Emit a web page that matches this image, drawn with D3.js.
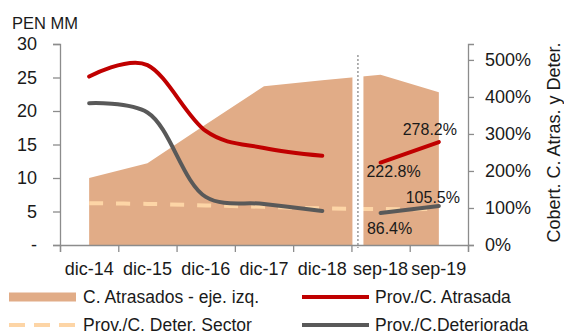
<!DOCTYPE html>
<html>
<head>
<meta charset="utf-8">
<script src="https://cdn.jsdelivr.net/npm/d3@7"></script>
<style>
  body { margin: 0; background: #fff; }
  svg text { font-family: "Liberation Sans", Arial, sans-serif; fill: #1a1a1a; }
</style>
</head>
<body>
<script>
// categories and series
var categories = ["dic-14", "dic-15", "dic-16", "dic-17", "dic-18", "sep-18", "sep-19"];
var segment = [0, 0, 0, 0, 0, 1, 1];   // annual block vs. sep block
var atrasados = [10.0, 12.2, 18.0, 23.7, 24.6, 25.4, 22.8];          // PEN MM, left axis
var provAtrasada = [4.55, 4.86, 3.08, 2.62, 2.41, 2.228, 2.782];     // right axis (1 = 100%)
var provDeteriorada = [3.83, 3.58, 1.30, 1.11, 0.92, 0.864, 1.055];  // right axis
var provDeterSector = [1.13, 1.11, 1.07, 1.03, 0.99, 0.97, 0.97];    // right axis
var leftTicks = [0, 5, 10, 15, 20, 25, 30];
var rightTicks = [0, 1, 2, 3, 4, 5];

var w = 564, h = 334;
var plotL = 60, plotR = 468, plotT = 44, plotB = 245;

var svg = d3.select("body").append("svg")
    .attr("width", w)
    .attr("height", h);

// scales
var xBand = d3.scaleBand().domain(categories).range([plotL, plotR]).padding(0);
var xEdge = d3.scaleLinear().domain([0, categories.length]).range([plotL, plotR]);
var yL = d3.scaleLinear().domain([0, 30]).range([plotB, plotT]);
var yR = d3.scaleLinear().domain([0, 5.43]).range([plotB, plotT]);

function cx(i) { return xBand(categories[i]) + xBand.bandwidth() / 2; }

// area (left axis)
var area = d3.area()
    .x(function(d, i) { return cx(i); })
    .y0(yL(0))
    .y1(function(d) { return yL(d); });

svg.append("path")
    .datum(atrasados)
    .attr("d", area)
    .attr("fill", "#E1AC87");

// lines on the right axis
var pts = function(arr) { return arr.map(function(v, i) { return {i: i, v: v, s: segment[i]}; }); };
function lineR(curve) {
    return d3.line()
        .x(function(d) { return cx(d.i); })
        .y(function(d) { return yR(d.v); })
        .curve(curve);
}

// dashed sector line
svg.append("path")
    .datum(pts(provDeterSector))
    .attr("d", lineR(d3.curveCardinal))
    .attr("fill", "none")
    .attr("stroke", "#FDD5A6")
    .attr("stroke-width", 4)
    .attr("stroke-dasharray", "14,13");

// break between the two blocks
var gapX = xBand("sep-18") + 1;
svg.append("rect")
    .attr("x", gapX)
    .attr("y", plotT - 4)
    .attr("width", 11)
    .attr("height", plotB - plotT + 4)
    .attr("fill", "#fff");

svg.append("line")
    .attr("x1", gapX + 5.5).attr("x2", gapX + 5.5)
    .attr("y1", 55).attr("y2", plotB + 3)
    .attr("stroke", "#8a8a8a")
    .attr("stroke-width", 1.3)
    .attr("stroke-dasharray", "2,2");

// red & gray lines, drawn per block
function drawSeries(arr, color, curve) {
    var groups = d3.groups(pts(arr), function(d) { return d.s; });
    groups.forEach(function(g) {
        svg.append("path")
            .datum(g[1])
            .attr("d", lineR(curve))
            .attr("fill", "none")
            .attr("stroke", color)
            .attr("stroke-width", 4)
            .attr("stroke-linecap", "round");
    });
}
drawSeries(provAtrasada, "#C00000", d3.curveCardinal);
drawSeries(provDeteriorada, "#595959", d3.curveCatmullRom.alpha(0.5));

// data labels on the sep block
var fmt = function(v) { return (v * 100).toFixed(1) + "%"; };
var labels = [
    {arr: provAtrasada, i: 6, dx: -9, dy: -7},
    {arr: provAtrasada, i: 5, dx: 13, dy: 14.5},
    {arr: provDeteriorada, i: 6, dx: -6, dy: -3},
    {arr: provDeteriorada, i: 5, dx: 9, dy: 21}
];
svg.selectAll(".dlabel")
    .data(labels)
    .enter()
    .append("text")
    .attr("class", "dlabel")
    .attr("x", function(d) { return cx(d.i) + d.dx; })
    .attr("y", function(d) { return yR(d.arr[d.i]) + d.dy; })
    .attr("text-anchor", "middle")
    .style("font-size", "16px")
    .text(function(d) { return fmt(d.arr[d.i]); });

// axes
var axisColor = "#8c8c8c";

var yAxisL = d3.axisLeft(yL)
    .tickValues(leftTicks)
    .tickSize(7)
    .tickPadding(16)
    .tickFormat(function(d) { return d === 0 ? "-" : d; });
var gL = svg.append("g")
    .attr("transform", "translate(" + plotL + ",0)")
    .call(yAxisL);

var yAxisR = d3.axisRight(yR)
    .tickValues(rightTicks)
    .tickSize(6)
    .tickPadding(11)
    .tickFormat(function(d) { return d * 100 + "%"; });
var gR = svg.append("g")
    .attr("transform", "translate(" + plotR + ",0)")
    .call(yAxisR);

// x: edge ticks + centred labels
var gXt = svg.append("g")
    .attr("transform", "translate(0," + plotB + ")")
    .call(d3.axisBottom(xEdge).ticks(categories.length).tickSize(7).tickFormat(""));

var gX = svg.append("g")
    .attr("transform", "translate(0," + plotB + ")")
    .call(d3.axisBottom(xBand).tickSize(0).tickPadding(17));
gX.select(".domain").remove();

[gL, gR, gXt].forEach(function(g) {
    g.select(".domain").attr("stroke", axisColor).attr("stroke-width", 1.3);
    g.selectAll(".tick line").attr("stroke", axisColor).attr("stroke-width", 1.3);
});
[gL, gR, gX].forEach(function(g) {
    g.selectAll("text")
        .style("font-family", "'Liberation Sans', Arial, sans-serif")
        .style("font-size", "18px")
        .attr("fill", "#1a1a1a");
});

// axis titles
svg.append("text")
    .attr("x", 12)
    .attr("y", 29)
    .style("font-size", "16.5px")
    .text("PEN MM");

svg.append("text")
    .attr("transform", "translate(559.5," + ((plotT + plotB) / 2 - 2) + ") rotate(-90)")
    .attr("text-anchor", "middle")
    .style("font-size", "18px")
    .text("Cobert. C. Atras. y Deter.");

// legend
var leg = [
    {name: "C. Atrasados - eje. izq.", type: "rect", color: "#E1AC87", x: 9, y: 297},
    {name: "Prov./C. Atrasada", type: "line", color: "#C00000", x: 302, y: 297},
    {name: "Prov./C. Deter. Sector", type: "dash", color: "#FDD5A6", x: 9, y: 325},
    {name: "Prov./C.Deteriorada", type: "line", color: "#595959", x: 302, y: 325}
];
var lg = svg.selectAll(".leg")
    .data(leg)
    .enter()
    .append("g")
    .attr("class", "leg")
    .attr("transform", function(d) { return "translate(" + d.x + "," + d.y + ")"; });

lg.filter(function(d) { return d.type === "rect"; })
    .append("rect")
    .attr("x", 0).attr("y", -4.5)
    .attr("width", 67).attr("height", 9)
    .attr("fill", function(d) { return d.color; });

lg.filter(function(d) { return d.type !== "rect"; })
    .append("line")
    .attr("x1", 0).attr("x2", 67)
    .attr("y1", 0).attr("y2", 0)
    .attr("stroke", function(d) { return d.color; })
    .attr("stroke-width", 4)
    .attr("stroke-dasharray", function(d) { return d.type === "dash" ? "16,9" : null; });

lg.append("text")
    .attr("x", function(d) { return d.type === "line" ? 73 : 74; })
    .attr("y", 5.5)
    .style("font-size", "17.5px")
    .text(function(d) { return d.name; });
</script>
</body>
</html>
